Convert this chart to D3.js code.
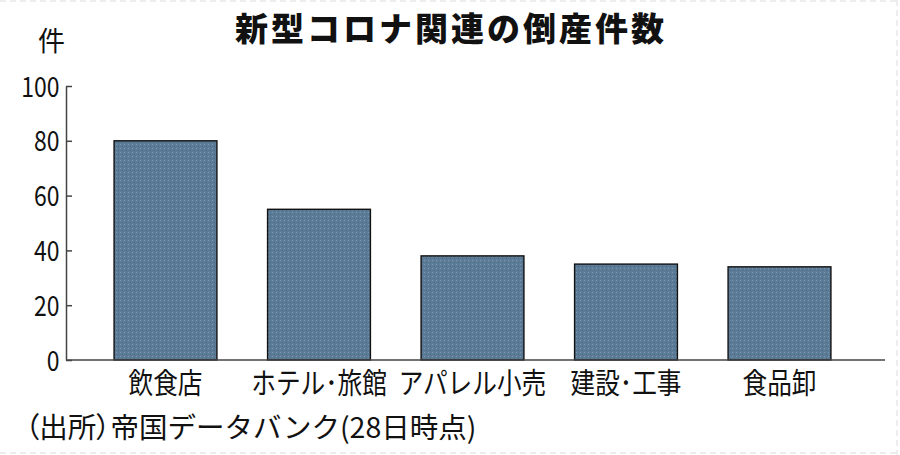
<!DOCTYPE html>
<html>
<head>
<meta charset="utf-8">
<script src="https://cdn.jsdelivr.net/npm/d3@7"></script>
<style>
    body { margin: 0; background: #fff; }
    svg { display: block; }
    text { font-family: "Noto Sans CJK JP", "Noto Sans", sans-serif; fill: #111; }
</style>
</head>
<body>
<div id="chart"></div>
<script>
// data
const categories = ["飲食店", "ホテル･旅館", "アパレル小売", "建設･工事", "食品卸"];
const values = [80, 55, 38, 35, 34];
const yTicks = [0, 20, 40, 60, 80, 100];

const title = "新型コロナ関連の倒産件数";
const unitLabel = "件";
const sourceNote = "（出所）帝国データバンク(28日時点)";

const width = 900,
    height = 455;

const svg = d3.select("#chart").append("svg")
    .attr("width", width)
    .attr("height", height);

// dotted texture for the bars
const defs = svg.append("defs");
const pat = defs.append("pattern")
    .attr("id", "dots")
    .attr("width", 4)
    .attr("height", 4)
    .attr("patternUnits", "userSpaceOnUse");
pat.append("rect").attr("width", 4).attr("height", 4).attr("fill", "#5c7b96");
pat.append("rect").attr("x", 0).attr("y", 0).attr("width", 1).attr("height", 1).attr("fill", "#7d98b0");
pat.append("rect").attr("x", 2).attr("y", 2).attr("width", 1).attr("height", 1).attr("fill", "#4d6a84");

// faint dashed frame edges
const edge = svg.append("g")
    .attr("stroke", "#dcdcdc")
    .attr("stroke-dasharray", "6,4")
    .attr("fill", "none");
edge.append("line").attr("x1", 0).attr("x2", width).attr("y1", 1).attr("y2", 1);
edge.append("line").attr("x1", width - 3).attr("x2", width - 3).attr("y1", 0).attr("y2", height);
edge.append("line").attr("x1", 0).attr("x2", width).attr("y1", height - 2).attr("y2", height - 2);

const x0 = 66, x1 = 885;

const x = d3.scaleBand()
    .domain(categories)
    .range([88.75, 856.25])
    .paddingInner(0.33)
    .paddingOuter(0.165);

const y = d3.scaleLinear()
    .domain([0, 100])
    .range([360, 86]);

// bars
svg.append("g")
    .selectAll("rect")
    .data(values)
    .join("rect")
    .attr("x", (d, i) => x(categories[i]))
    .attr("y", d => y(d))
    .attr("width", x.bandwidth())
    .attr("height", d => y(0) - y(d))
    .attr("fill", "url(#dots)")
    .attr("stroke", "#111")
    .attr("stroke-width", 1.4);

// y axis
const yAxis = svg.append("g")
    .attr("transform", `translate(${x0},0)`)
    .call(d3.axisLeft(y)
        .tickValues(yTicks)
        .tickSizeInner(-6)
        .tickSizeOuter(0)
        .tickPadding(8));

yAxis.select(".domain").attr("stroke", "#444").attr("stroke-width", 1.5);
yAxis.selectAll(".tick line").attr("stroke", "#444").attr("stroke-width", 1.5);
yAxis.selectAll(".tick text")
    .attr("font-size", 28)
    .attr("font-family", "Noto Sans CJK JP")
    .attr("fill", "#111")
    .attr("dy", "0.36em")
    .attr("transform", "scale(0.82,1)");

// baseline
svg.append("line")
    .attr("x1", x0)
    .attr("x2", x1)
    .attr("y1", y(0))
    .attr("y2", y(0))
    .attr("stroke", "#444")
    .attr("stroke-width", 1.5);

// category labels
svg.append("g")
    .selectAll("text")
    .data(categories)
    .join("text")
    .attr("transform", d => `translate(${x(d) + x.bandwidth() / 2},394) scale(0.85,1)`)
    .attr("text-anchor", "middle")
    .attr("font-size", 29)
    .text(d => d);

// unit label
svg.append("text")
    .attr("x", 38)
    .attr("y", 51)
    .attr("font-size", 27)
    .text(unitLabel);

// title
svg.append("text")
    .attr("x", 451)
    .attr("y", 41)
    .attr("text-anchor", "middle")
    .attr("font-size", 33)
    .attr("font-weight", 900)
    .attr("letter-spacing", 3)
    .text(title);

// source - the bracketed prefix is set proportional like the original
const src = svg.append("text")
    .attr("x", 25)
    .attr("y", 438)
    .attr("font-size", 28.5);
const cut = sourceNote.indexOf("）") + 1;
src.append("tspan")
    .style("font-feature-settings", "'palt'")
    .text(sourceNote.slice(0, cut));
src.append("tspan")
    .text(sourceNote.slice(cut));
</script>
</body>
</html>
